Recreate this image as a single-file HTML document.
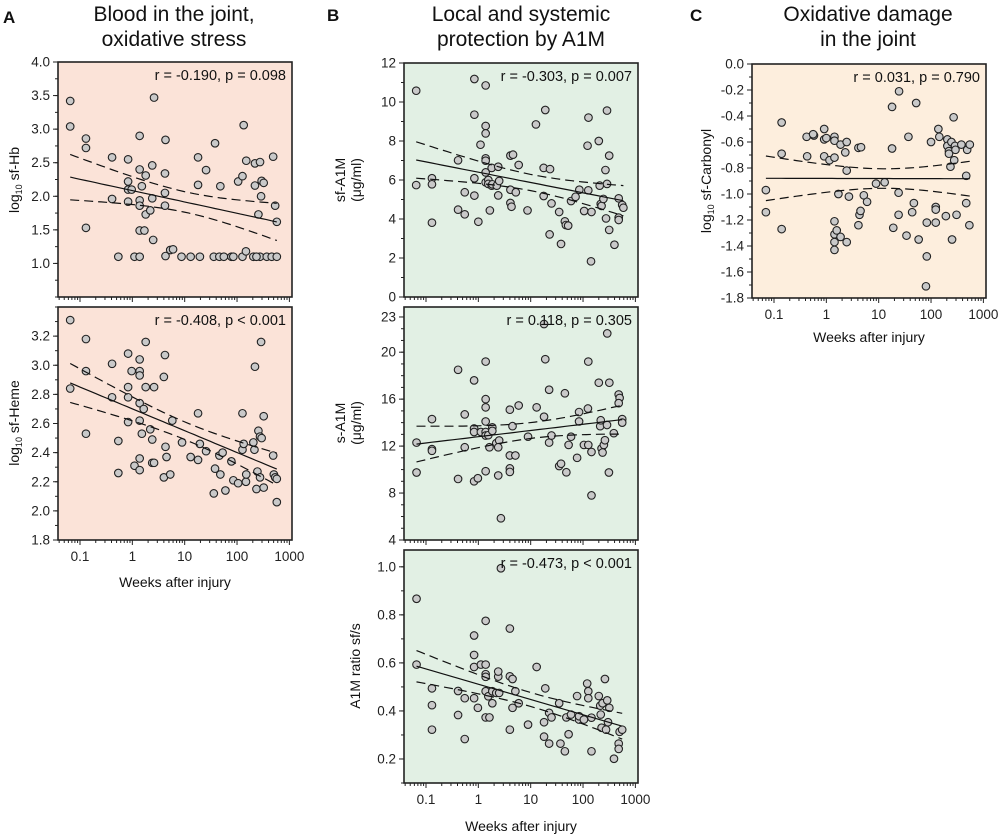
<!DOCTYPE html>
<html><head><meta charset="utf-8"><style>
html,body{margin:0;padding:0;background:#fff;}
svg{display:block;font-family:"Liberation Sans",Arial,sans-serif;}
</style></head><body>
<svg id="fig" width="1000" height="834" viewBox="0 0 1000 834" xmlns="http://www.w3.org/2000/svg">
<g font-size="21" fill="#111" text-anchor="middle">
<text x="3" y="23" font-size="17" font-weight="bold" text-anchor="start">A</text>
<text x="327" y="21" font-size="17" font-weight="bold" text-anchor="start">B</text>
<text x="690" y="21" font-size="17" font-weight="bold" text-anchor="start">C</text>
<text x="174" y="21">Blood in the joint,</text>
<text x="174" y="46">oxidative stress</text>
<text x="521" y="21">Local and systemic</text>
<text x="521" y="46">protection by A1M</text>
<text x="868" y="21">Oxidative damage</text>
<text x="868" y="46">in the joint</text>
</g>
<g font-size="14" fill="#111" text-anchor="middle">
<text transform="translate(19,180) rotate(-90)">log<tspan font-size="9" dy="3">10</tspan><tspan dy="-3"> sf-Hb</tspan></text>
<text transform="translate(19,423) rotate(-90)">log<tspan font-size="9" dy="3">10</tspan><tspan dy="-3"> sf-Heme</tspan></text>
<text transform="translate(345,180) rotate(-90)">sf-A1M</text>
<text transform="translate(361,180) rotate(-90)">(μg/ml)</text>
<text transform="translate(345,423) rotate(-90)">s-A1M</text>
<text transform="translate(361,423) rotate(-90)">(μg/ml)</text>
<text transform="translate(360,666) rotate(-90)">A1M ratio sf/s</text>
<text transform="translate(711,181) rotate(-90)">log<tspan font-size="9" dy="3">10</tspan><tspan dy="-3"> sf-Carbonyl</tspan></text>
<text x="175" y="587">Weeks after injury</text>
<text x="521" y="831">Weeks after injury</text>
<text x="869" y="342">Weeks after injury</text>
</g>
</svg>
<script>
// ---- data (weeks after injury, values) ----
const hbWeeks=[0.065,0.065,0.13,0.13,0.13,0.41,0.41,0.54,0.83,0.83,0.83,0.97,0.83,1.1,1.38,1.38,1.38,1.38,1.38,1.38,1.52,1.7,1.8,1.8,2.2,2.4,2.4,2.5,2.6,4.2,4.2,4.2,4.3,4.3,5.3,6,8.7,13,18,18,19.5,25.6,38,36,46,48,56,78,85,105,127,134,127,148,150,205,220,220,256,275,275,295,323,288,370,460,490,535,575,575,235];
const hbValues=[3.42,3.04,2.86,2.72,1.53,2.58,1.96,1.10,2.55,2.22,2.10,2.10,1.92,1.10,2.90,2.40,1.94,1.86,1.49,1.10,2.15,1.49,2.31,1.73,1.79,2.46,1.97,1.35,3.47,2.34,2.05,1.86,2.84,1.11,1.20,1.21,1.10,1.10,2.58,2.17,1.10,2.39,2.79,1.10,1.10,2.15,1.10,1.10,1.10,2.22,2.30,3.06,1.10,1.18,2.53,1.10,2.49,2.16,1.73,2.51,1.10,2.23,2.20,2.00,1.10,1.10,2.59,1.86,1.62,1.10,1.10];
const hemeWeeks=[0.065,0.065,0.13,0.13,0.13,0.41,0.41,0.54,0.54,0.83,0.83,0.83,0.83,0.97,1.1,1.38,1.38,1.38,1.38,1.38,1.38,1.38,1.52,1.65,1.8,1.8,2.2,2.4,2.4,2.6,2.6,4.0,4.2,4.0,4.3,4.5,5.3,5.8,8.9,13,18,18,19.5,25.6,36,38,46,48,53,60,78,85,105,127,127,134,148,150,205,215,220,235,245,256,275,288,295,275,323,323,490,505,535,575,575];
const hemeValues=[3.31,2.84,3.18,2.96,2.53,3.01,2.78,2.48,2.26,3.08,2.85,2.78,2.61,2.96,2.31,3.04,2.96,2.93,2.74,2.62,2.36,2.28,2.53,2.70,3.16,2.85,2.56,2.49,2.33,2.33,2.85,2.92,3.07,2.23,2.44,2.37,2.25,2.62,2.47,2.37,2.67,2.35,2.46,2.41,2.12,2.29,2.38,2.25,2.40,2.14,2.34,2.21,2.19,2.67,2.42,2.46,2.20,2.25,2.47,2.42,2.99,2.15,2.27,2.55,2.51,3.16,2.50,2.23,2.16,2.65,2.38,2.25,2.23,2.22,2.06];
const sfA1mWeeks=[0.065,0.065,0.13,0.13,0.13,0.41,0.55,0.41,0.55,0.84,0.84,0.84,0.84,1.0,1.1,1.38,1.38,1.38,1.38,1.38,1.38,1.38,1.55,1.55,1.8,1.8,1.66,1.85,2.25,2.4,2.5,2.4,4.1,4.6,4.1,5.2,4.1,4.3,5.9,8.7,12.6,17.7,23.4,19,17.7,25,23,35,38,45,47,52,59,72,85,126,105,127,122,142,145,200,208,218,226,245,268,287,287,275,316,316,398,480,480,480,560,590];
const sfA1mValues=[10.58,5.74,6.09,5.78,3.81,7.01,5.37,4.48,4.24,11.18,9.35,6.09,5.20,3.86,7.81,10.85,8.77,8.39,7.11,6.99,6.39,5.88,6.00,5.80,6.62,5.71,4.44,5.78,5.71,6.68,5.95,5.21,7.25,7.30,5.50,5.37,4.82,4.63,6.77,4.44,8.85,6.62,6.56,9.59,5.18,4.80,3.21,4.36,2.72,3.88,3.69,3.66,4.92,5.14,5.50,5.47,4.41,9.20,7.76,1.83,4.36,8.00,5.71,4.77,4.67,5.03,6.51,9.56,5.80,4.03,7.25,3.44,2.68,5.06,4.07,3.95,4.72,4.58];
const sA1mWeeks=[0.066,0.066,0.13,0.13,0.13,0.41,0.41,0.55,0.55,0.83,0.83,0.83,0.83,0.98,1.12,1.38,1.38,1.38,1.38,1.38,1.38,1.38,1.55,1.63,1.85,1.85,2.2,2.5,2.4,2.4,2.7,4.0,4.5,4.0,5.1,4.0,4.0,5.9,8.9,13,18,18,19,22.5,22.5,25,35,38,48,45,53,59,77,84,84,104,124,126,126,145,145,200,213,218,226,236,250,262,287,290,312,318,387,480,500,480,560,560];
const sA1mValues=[12.3,9.75,14.3,11.74,11.6,18.5,9.2,14.7,11.9,17.6,13.5,13.2,9.0,9.26,13.2,19.2,16.0,15.3,14.1,13.2,12.9,9.86,12.93,11.9,13.6,13.3,12.25,12.48,11.9,9.5,5.85,15.1,13.7,11.2,11.2,10.1,9.8,15.46,12.8,15.3,14.5,22.4,19.4,16.8,12.3,12.9,10.3,10.5,9.77,16.5,12.1,12.8,11.0,14.1,14.9,12.1,15.2,12.1,19.2,11.5,7.8,17.4,13.7,14.2,11.8,11.45,12.1,12.5,13.8,21.6,9.75,17.4,13.1,16.4,16.1,15.66,14.3,14.0];
const ratioWeeks=[0.066,0.066,0.13,0.13,0.13,0.41,0.41,0.55,0.55,0.83,0.83,0.83,0.83,0.98,1.12,1.38,1.38,1.38,1.38,1.38,1.38,1.55,1.63,1.85,1.85,2.2,2.4,2.4,2.5,2.7,4.0,4.0,4.5,4.5,4.0,5.1,5.9,8.9,13,18,18,19,22.5,22.5,25,35,37,45,48,53,59,77,84,84,104,120,126,126,145,145,200,213,218,226,236,262,275,290,300,318,390,480,480,500,560];
const ratioValues=[0.867,0.593,0.494,0.424,0.322,0.483,0.383,0.453,0.283,0.714,0.633,0.583,0.453,0.413,0.593,0.775,0.593,0.553,0.542,0.482,0.373,0.461,0.373,0.432,0.482,0.475,0.543,0.564,0.475,0.994,0.743,0.544,0.533,0.413,0.322,0.482,0.432,0.343,0.583,0.353,0.293,0.494,0.392,0.264,0.373,0.432,0.264,0.232,0.373,0.303,0.385,0.462,0.364,0.378,0.364,0.514,0.482,0.453,0.372,0.232,0.462,0.422,0.385,0.330,0.432,0.533,0.322,0.444,0.353,0.413,0.201,0.264,0.242,0.313,0.322];
const carbWeeks=[0.07,0.07,0.14,0.14,0.14,0.42,0.43,0.58,0.56,0.91,0.91,0.91,1.0,1.15,1.43,1.43,1.43,1.43,1.43,1.43,1.43,1.58,1.7,1.87,1.87,2.3,2.45,2.45,2.45,2.7,4.1,4.6,4.3,4.1,4.5,5.2,6.0,8.9,13,18,18,19,24.5,24,24,34,37,43.6,47,52,58,80,83,83,100,123,123,123,138,144,192,205,205,220,220,235,245,252,270,277,287,293,307,380,470,470,490,550,540];
const carbValues=[-0.97,-1.14,-0.45,-0.69,-1.27,-0.56,-0.71,-0.55,-0.54,-0.50,-0.58,-0.71,-0.57,-0.74,-0.56,-0.72,-0.59,-1.21,-1.31,-1.37,-1.43,-1.28,-1.00,-0.62,-1.33,-0.68,-0.60,-0.82,-1.37,-1.02,-0.645,-0.64,-1.16,-1.24,-1.13,-1.01,-1.06,-0.92,-0.91,-0.33,-0.65,-1.26,-0.21,-0.99,-1.16,-1.32,-0.56,-1.14,-1.07,-0.30,-1.35,-1.71,-1.48,-1.22,-0.60,-1.10,-1.12,-1.22,-0.50,-0.56,-1.17,-0.58,-0.63,-0.67,-0.69,-0.79,-0.60,-1.35,-0.41,-0.74,-0.63,-0.66,-1.16,-0.62,-0.86,-1.07,-0.66,-0.62,-1.24];
const xTickValues=[0.1,1,10,100,1000];
const xTickLabels=["0.1","1","10","100","1000"];
const statsLabels=["r = -0.190, p = 0.098","r = -0.408, p < 0.001","r = -0.303, p = 0.007","r = 0.118, p = 0.305","r = -0.473, p < 0.001","r = 0.031, p = 0.790"];

const NS="http://www.w3.org/2000/svg";
const svg=document.getElementById('fig');
function mk(tag,attrs,parent){const e=document.createElementNS(NS,tag);for(const k in attrs)e.setAttribute(k,attrs[k]);(parent||svg).appendChild(e);return e;}
const LXMIN=-1.42,LXMAX=3.05;

function panel(o){
  const g=mk('g',{});
  
  
  const xs=v=>o.x0+(Math.log10(v)-LXMIN)/(LXMAX-LXMIN)*(o.x1-o.x0);
  const ys=v=>o.y1-(v-o.ymin)/(o.ymax-o.ymin)*(o.y1-o.y0);
  const bg=mk('rect',{x:o.x0,y:o.y0,width:o.x1-o.x0,height:o.y1-o.y0,fill:o.bg},g);
  
  
  // y ticks
  const yAxis=mk('g',{stroke:'#222','stroke-width':1},g);
  
  
  for(let v=o.ymin;v<=o.ymax+1e-9;v+=o.minor){const y=ys(v);mk('line',{x1:o.x0-3,x2:o.x0,y1:y,y2:y},yAxis);}
  o.ticks.forEach((v,i)=>{const y=ys(v);mk('line',{x1:o.x0-5,x2:o.x0,y1:y,y2:y},yAxis);
    const t=mk('text',{x:o.x0-8,y:y+4.5,'text-anchor':'end','font-size':13.5,fill:'#222',stroke:'none'},g);
    t.textContent=o.tickLabels[i];
    
    });
  // x ticks
  const xAxis=mk('g',{stroke:'#222','stroke-width':1},g);
  
  
  for(let d=-2;d<=3;d++)for(let m=1;m<=9;m++){const v=m*Math.pow(10,d);const lv=Math.log10(v);if(lv<LXMIN||lv>LXMAX)continue;const x=xs(v);mk('line',{x1:x,x2:x,y1:o.y1,y2:o.y1+(m===1?5:3)},xAxis);}
  if(o.xlabels){xTickValues.forEach((v,i)=>{const t=mk('text',{x:xs(v),y:o.y1+21,'text-anchor':'middle','font-size':13.5,fill:'#222'},g);
    t.textContent=xTickLabels[i];
    
    });}
  // regression from data
  const n=o.xv.length,lx=o.xv.map(Math.log10);
  const mx=lx.reduce((a,b)=>a+b)/n,my=o.yv.reduce((a,b)=>a+b)/n;
  let sxx=0,sxy=0;for(let i=0;i<n;i++){sxx+=(lx[i]-mx)**2;sxy+=(lx[i]-mx)*(o.yv[i]-my);}
  const b=sxy/sxx,a=my-b*mx;let sse=0;for(let i=0;i<n;i++)sse+=(o.yv[i]-a-b*lx[i])**2;
  const s=Math.sqrt(sse/(n-2)),tq=1.993;
  const lo=Math.min(...lx),hi=Math.max(...lx);
  let pf='',pu='',pl='';
  for(let k=0;k<=40;k++){const l=lo+(hi-lo)*k/40,v=Math.pow(10,l),f=a+b*l,se=s*Math.sqrt(1/n+(l-mx)**2/sxx);
    const c=k?'L':'M';pf+=c+xs(v).toFixed(1)+','+ys(f).toFixed(1);pu+=c+xs(v).toFixed(1)+','+ys(f+tq*se).toFixed(1);pl+=c+xs(v).toFixed(1)+','+ys(f-tq*se).toFixed(1);}
  const pts=mk('g',{},g);
  
  
  o.xv.forEach((v,i)=>{const c=mk('circle',{cx:xs(v),cy:ys(o.yv[i]),r:3.8,fill:'#c9c9c9',stroke:'#222','stroke-width':1.1},pts);
    
    });
  const fl=mk('path',{d:pf,fill:'none',stroke:'#111','stroke-width':1.2},g);
  
  
  const up=mk('path',{d:pu,fill:'none',stroke:'#111','stroke-width':1.2,'stroke-dasharray':'9,5'},g);
  
  
  const dn=mk('path',{d:pl,fill:'none',stroke:'#111','stroke-width':1.2,'stroke-dasharray':'9,5'},g);
  
  
  const fr=mk('rect',{x:o.x0,y:o.y0,width:o.x1-o.x0,height:o.y1-o.y0,fill:'none',stroke:'#222','stroke-width':1.6},g);
  
  
  const st=mk('text',{x:o.x1-6,y:o.y0+18,'text-anchor':'end','font-size':14.5,fill:'#111'},g);
  st.textContent=o.stats;
  
  
}
function rng(a,b,s){const r=[];for(let v=a;v<=b+1e-9;v+=s)r.push(+v.toFixed(2));return r;}
const pink='#fbe3d8',green='#e2f0e4',peach='#fdeedd';
panel({name:'panel-a-sf-hb',x0:58,x1:292,y0:62,y1:297,ymin:0.5,ymax:4.0,minor:0.25,ticks:rng(1,4,0.5),tickLabels:rng(1,4,0.5).map(v=>v.toFixed(1)),bg:pink,xv:hbWeeks,yv:hbValues,stats:statsLabels[0],xlabels:false});
panel({name:'panel-a-sf-heme',x0:58,x1:292,y0:307,y1:540,ymin:1.8,ymax:3.4,minor:0.1,ticks:rng(1.8,3.2,0.2),tickLabels:rng(1.8,3.2,0.2).map(v=>v.toFixed(1)),bg:pink,xv:hemeWeeks,yv:hemeValues,stats:statsLabels[1],xlabels:true});
panel({name:'panel-b-sf-a1m',x0:404,x1:638,y0:63,y1:297,ymin:0,ymax:12,minor:1,ticks:rng(0,12,2),tickLabels:rng(0,12,2).map(String),bg:green,xv:sfA1mWeeks,yv:sfA1mValues,stats:statsLabels[2],xlabels:false});
panel({name:'panel-b-s-a1m',x0:404,x1:638,y0:307,y1:540,ymin:4,ymax:23.85,minor:1,ticks:[4,8,12,16,20,23],tickLabels:["4","8","12","16","20","23"],bg:green,xv:sA1mWeeks,yv:sA1mValues,stats:statsLabels[3],xlabels:false});
panel({name:'panel-b-a1m-ratio',x0:404,x1:638,y0:550,y1:783,ymin:0.1,ymax:1.07,minor:0.1,ticks:rng(0.2,1.0,0.2),tickLabels:rng(0.2,1.0,0.2).map(v=>v.toFixed(1)),bg:green,xv:ratioWeeks,yv:ratioValues,stats:statsLabels[4],xlabels:true});
panel({name:'panel-c-sf-carbonyl',x0:752,x1:986,y0:64,y1:298,ymin:-1.8,ymax:0,minor:0.1,ticks:rng(-1.8,0,0.2),tickLabels:rng(-1.8,0,0.2).map(v=>v.toFixed(1)),bg:peach,xv:carbWeeks,yv:carbValues,stats:statsLabels[5],xlabels:true});
</script>
</body></html>
